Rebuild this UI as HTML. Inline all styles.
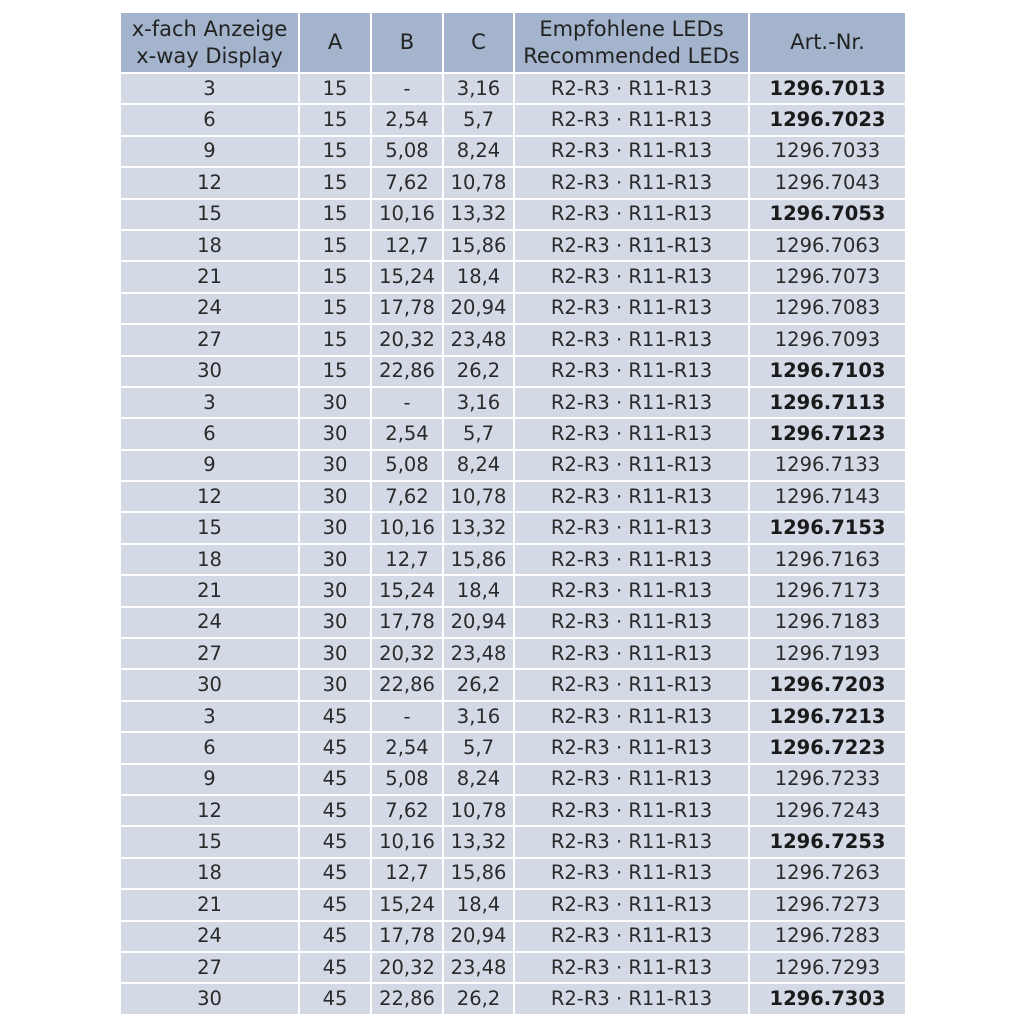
<!DOCTYPE html>
<html><head><style>
body{margin:0;width:1024px;height:1024px;background:#fff;position:relative;font-family:"DejaVu Sans","Liberation Sans",sans-serif;}
table{position:absolute;left:119px;top:11px;border-collapse:collapse;table-layout:fixed;}
td,th{border:2px solid #fff;text-align:center;padding:0;color:#2a2a2a;font-size:19.5px;font-weight:normal;background:#d3dae6;height:29.4px;line-height:20px;}
th{background:#a4b4cc;height:59px;font-size:21px;color:#222;line-height:27px;}
td.b{font-weight:bold;color:#1a1a1a;}
</style></head><body>
<table>
<colgroup><col style="width:179px"><col style="width:72px"><col style="width:72px"><col style="width:71px"><col style="width:235px"><col style="width:157px"></colgroup>
<tr><th>x-fach Anzeige<br>x-way Display</th><th>A</th><th>B</th><th>C</th><th>Empfohlene LEDs<br>Recommended LEDs</th><th>Art.-Nr.</th></tr>
<tbody id="tb"></tbody>
</table>
<script>
var n=[3,6,9,12,15,18,21,24,27,30],B=['-','2,54','5,08','7,62','10,16','12,7','15,24','17,78','20,32','22,86'],C=['3,16','5,7','8,24','10,78','13,32','15,86','18,4','20,94','23,48','26,2'],h='';
[15,30,45].forEach(function(a,g){for(var i=0;i<10;i++){var num=7013+g*100+i*10;var bold=[0,1,4,9].indexOf(i)>=0;
h+='<tr><td>'+n[i]+'</td><td>'+a+'</td><td>'+B[i]+'</td><td>'+C[i]+'</td><td>R2-R3 · R11-R13</td><td'+(bold?' class="b"':'')+'>1296.'+num+'</td></tr>';}});
document.getElementById('tb').innerHTML=h;
</script>
</body></html>
